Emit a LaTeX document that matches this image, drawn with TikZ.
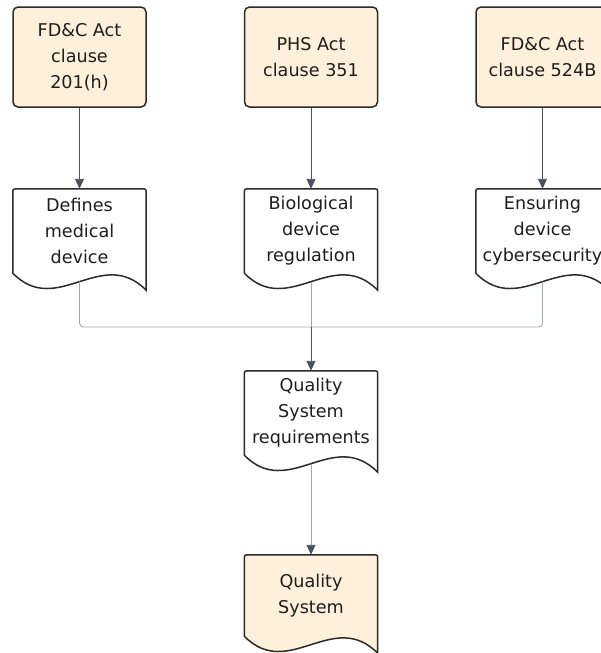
\documentclass[tikz,border=0pt]{standalone}
\usepackage{fontspec}
\setmainfont{DejaVu Sans}
\usetikzlibrary{arrows.meta,calc,backgrounds}
\definecolor{cream}{HTML}{FEF0DA}
\definecolor{edge}{HTML}{2B2B2B}
\definecolor{darkarrow}{HTML}{4A5161}
\definecolor{lightline}{HTML}{A3A7AE}
\definecolor{txt}{HTML}{1E1E1E}
\newcommand\docpath[2]{%
  \path[draw=edge, line width=1.5pt, fill=#2]
    (#1.south west) -- ($(#1.north west)+(0,5)$) .. controls (#1.north west) .. ($(#1.north west)+(5,0)$)
    -- ($(#1.north east)+(-5,0)$) .. controls (#1.north east) .. ($(#1.north east)+(0,5)$)
    -- ($(#1.south east)+(0,17)$) .. controls ($(#1.south west)+(88.67,-28)$) and ($(#1.south west)+(44.33,45)$) .. (#1.south west) -- cycle;}
\begin{document}
\begin{tikzpicture}[x=1pt,y=-1pt,
  txtstyle/.style={text=txt, align=center, font=\fontsize{17.6}{26}\selectfont},
  actbox/.style={txtstyle, draw=edge, line width=1.5pt, fill=cream, rounded corners=5pt, minimum width=133pt, minimum height=100pt, inner sep=0pt},
  docnode/.style={txtstyle, minimum width=133pt, minimum height=84pt, inner sep=0pt},
  arr/.style={darkarrow, line width=0.9pt, -{Triangle[length=10pt,width=9pt]}},
  merge/.style={lightline, line width=0.9pt, rounded corners=4pt},
]
\useasboundingbox (0,0) rectangle (600,653);
\node[actbox] (a1) at (79.5,57) {FD\&C Act\\clause\\201(h)};
\node[actbox] (a2) at (311,57) {PHS Act\\clause 351};
\node[actbox] (a3) at (542.5,57) {FD\&C Act\\clause 524B};
\node[docnode] (d1) at (79.5,231) {Defines\\medical\\device};
\node[docnode] (d2) at (311,231) {Biological\\device\\regulation};
\node[docnode] (d3) at (542.5,231) {Ensuring\\device\\cybersecurity};
\node[docnode] (qsr) at (311,413) {Quality\\System\\requirements};
\node[docnode, minimum height=81pt] (qs) at (311,595.5) {Quality\\System};
\coordinate (m) at (311,327);
\begin{pgfonlayer}{background}
\docpath{d1}{white}
\docpath{d2}{white}
\docpath{d3}{white}
\docpath{qsr}{white}
\docpath{qs}{cream}
\end{pgfonlayer}
\draw[arr] (a1) -- (d1);
\draw[arr] (a2) -- (d2);
\draw[arr] (a3) -- (d3);
\draw[merge] ($(d1.south)+(0,8.5)$) |- (m);
\draw[merge] ($(d3.south)+(0,8.5)$) |- (m);
\draw[merge] ($(d2.south)+(0,8.5)$) -- (m);
\draw[arr] (m) -- (qsr);
\draw[lightline, line width=0.9pt, -{Triangle[length=10pt,width=9pt,color=darkarrow]}] ($(qsr.south)+(0,8.5)$) -- (qs);
\end{tikzpicture}
\end{document}
